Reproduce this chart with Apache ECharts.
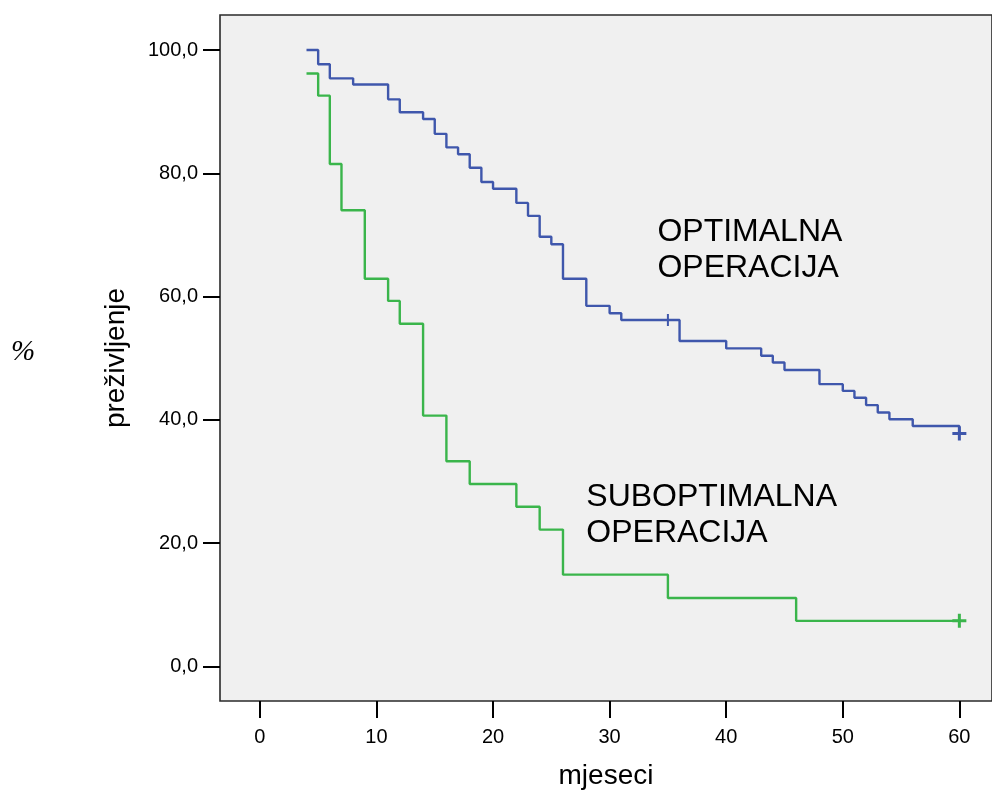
<!DOCTYPE html>
<html>
<head>
<meta charset="utf-8">
<script src="https://cdn.jsdelivr.net/npm/echarts@6/dist/echarts.min.js"></script>
<style>
html,body{margin:0;padding:0;background:#ffffff;}
#c{width:992px;height:800px;}
</style>
</head>
<body>
<div id="c"></div>
<script>
// Kaplan-Meier step data (months, % survival)
const optTimes = [4,5,6,8,11,12,14,15,16,17,18,19,20,22,23,24,25,26,28,30,31,36,40,43,44,45,48,50,51,52,53,54,56,60];
const optSurv  = [100,97.7,95.4,94.4,92.0,89.9,88.8,86.4,84.2,83.1,80.9,78.6,77.5,75.2,73.1,69.7,68.5,62.9,58.5,57.3,56.2,52.8,51.6,50.4,49.3,48.1,45.8,44.7,43.6,42.4,41.2,40.1,39.0,37.8];
const optCensT = [35,60];
const optCensS = [56.2,37.8];

const subTimes = [4,5,6,7,9,11,12,14,16,18,22,24,26,35,46,60];
const subSurv  = [96.2,92.6,81.5,74.0,62.9,59.3,55.6,40.7,33.3,29.6,25.9,22.2,14.9,11.1,7.4,7.4];
const subCensT = [60];
const subCensS = [7.4];

const xTicks = [0,10,20,30,40,50,60];
const yTicks = [0,20,40,60,80,100];

const blue = '#3f57ac';
const green = '#3ab54b';
const FONT = 'Liberation Sans';

const plusBig = 'path://M5.5,0 H8.5 V5.5 H14 V8.5 H8.5 V14 H5.5 V8.5 H0 V5.5 H5.5 Z';
const plusThin = 'path://M5,0 H7 V5 H12 V7 H7 V12 H5 V7 H0 V5 H5 Z';

const zip = (a,b) => a.map((v,i)=>[v,b[i]]);

const chart = echarts.init(document.getElementById('c'), null, {renderer:'canvas'});
const option = {
  backgroundColor:'#ffffff',
  animation:false,
  grid:{left:220, top:15, right:-2, bottom:99, show:true, backgroundColor:'#f0f0f0', borderColor:'#2a2a2a', borderWidth:1.6, containLabel:false},
  xAxis:{
    type:'value', min:-3.42, max:62.8,
    name:'mjeseci', nameLocation:'middle', nameGap:61,
    nameTextStyle:{fontFamily:FONT, fontSize:28, color:'#000'},
    axisLine:{show:false, onZero:false},
    splitLine:{show:false},
    axisTick:{show:true, length:17, lineStyle:{color:'#000', width:2}, customValues:xTicks},
    axisLabel:{fontFamily:FONT, fontSize:20, color:'#000', margin:26, customValues:xTicks}
  },
  yAxis:{
    type:'value', min:-5.6, max:105.68,
    name:'preživljenje', nameLocation:'middle', nameGap:90,
    nameTextStyle:{fontFamily:FONT, fontSize:28, color:'#000'},
    axisLine:{show:false, onZero:false},
    splitLine:{show:false},
    axisTick:{show:true, length:17, lineStyle:{color:'#000', width:2}, customValues:yTicks},
    axisLabel:{fontFamily:FONT, fontSize:20, color:'#000', margin:22, customValues:yTicks,
      formatter: v => v.toFixed(1).replace('.',',')}
  },
  series:[
    {type:'line', step:'end', data:zip(optTimes,optSurv), showSymbol:false, symbol:'none', lineStyle:{color:blue, width:2.4}, z:3},
    {type:'line', step:'end', data:zip(subTimes,subSurv), showSymbol:false, symbol:'none', lineStyle:{color:green, width:2.4}, z:3},
    {type:'scatter', data:zip(optCensT,optCensS), symbol:(v,p)=> p.dataIndex===0?plusThin:plusBig, symbolSize:(v,p)=> p.dataIndex===0?12:14, itemStyle:{color:blue, opacity:1}, z:4},
    {type:'scatter', data:zip(subCensT,subCensS), symbol:plusBig, symbolSize:14, itemStyle:{color:green, opacity:1}, z:4}
  ]
};
chart.setOption(option);

// annotation text positioned in data coordinates
const labels = [
  {t:34.1, v:70.5, s:'OPTIMALNA'},
  {t:34.1, v:64.6, s:'OPERACIJA'},
  {t:28.0, v:27.4, s:'SUBOPTIMALNA'},
  {t:28.0, v:21.6, s:'OPERACIJA'}
];
const g = labels.map(l => {
  const p = chart.convertToPixel({gridIndex:0}, [l.t, l.v]);
  return {type:'text', x:p[0], y:p[1], z:10,
    style:{text:l.s, fontFamily:FONT, fontSize:32, fill:'#000', textAlign:'left', textVerticalAlign:'middle'}};
});
g.push({type:'text', x:23, y:352, z:10,
  style:{text:'%', fontFamily:'Liberation Serif', fontStyle:'italic', fontSize:29, fill:'#000', textAlign:'center', textVerticalAlign:'middle'}});
chart.setOption({graphic:g});
</script>
</body>
</html>
